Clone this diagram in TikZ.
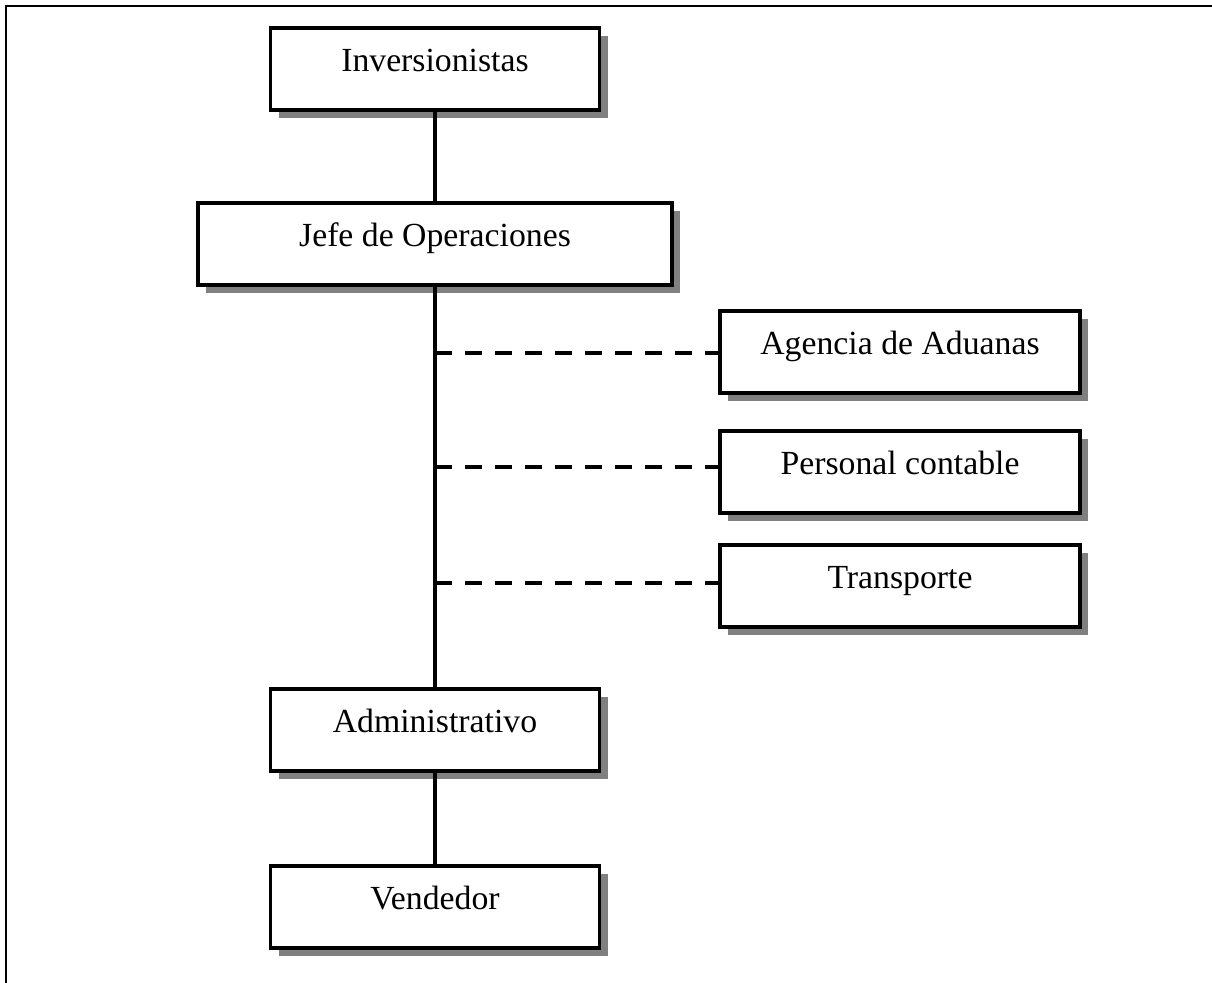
\documentclass[tikz,border=0pt]{standalone}
\usepackage{fontspec}
\setmainfont{Liberation Serif}
\usetikzlibrary{positioning,shadows}

\begin{document}
\begin{tikzpicture}[
x=0.025cm, y=-0.025cm,
line width=2.6pt,
caja/.style={draw, fill=white, line width=2.6pt, minimum height=2.05cm,
  font=\fontsize{24}{28}\selectfont, text height=.8em, text depth=.45em,
  drop shadow={shadow xshift=0.21cm, shadow yshift=-0.2cm, fill=black!50, opacity=1}},
ancha/.style={caja, minimum width=8.225cm},
lateral/.style={caja, minimum width=9cm},
punteada/.style={line width=2.4pt, dash pattern=on 0.425cm off 0.325cm}]
\useasboundingbox (0,0) rectangle (1212,983);
\draw[line width=1.8pt] (6,983) -- (6,6) -- (1212,6);

\node[ancha] (inv) at (435,69) {Inversionistas};
\node[caja, minimum width=11.85cm] (jefe) at (435,244) {Jefe de Operaciones};
\node[lateral] (aduanas) at (900,352) {Agencia de Aduanas};
\node[lateral] (contable) at (900,472) {Personal contable};
\node[lateral] (transp) at (900,586) {Transporte};
\node[ancha] (admin) at (435,730) {Administrativo};
\node[ancha] (vend) at (435,907) {Vendedor};

\coordinate (p1) at (435,353);
\coordinate (p2) at (435,467);
\coordinate (p3) at (435,583);

\draw (inv) -- (jefe);
\draw (jefe) -- (admin);
\draw (admin) -- (vend);
\draw[punteada] (p1) -- (p1 -| aduanas.west);
\draw[punteada] (p2) -- (p2 -| contable.west);
\draw[punteada] (p3) -- (p3 -| transp.west);
\end{tikzpicture}
\end{document}
